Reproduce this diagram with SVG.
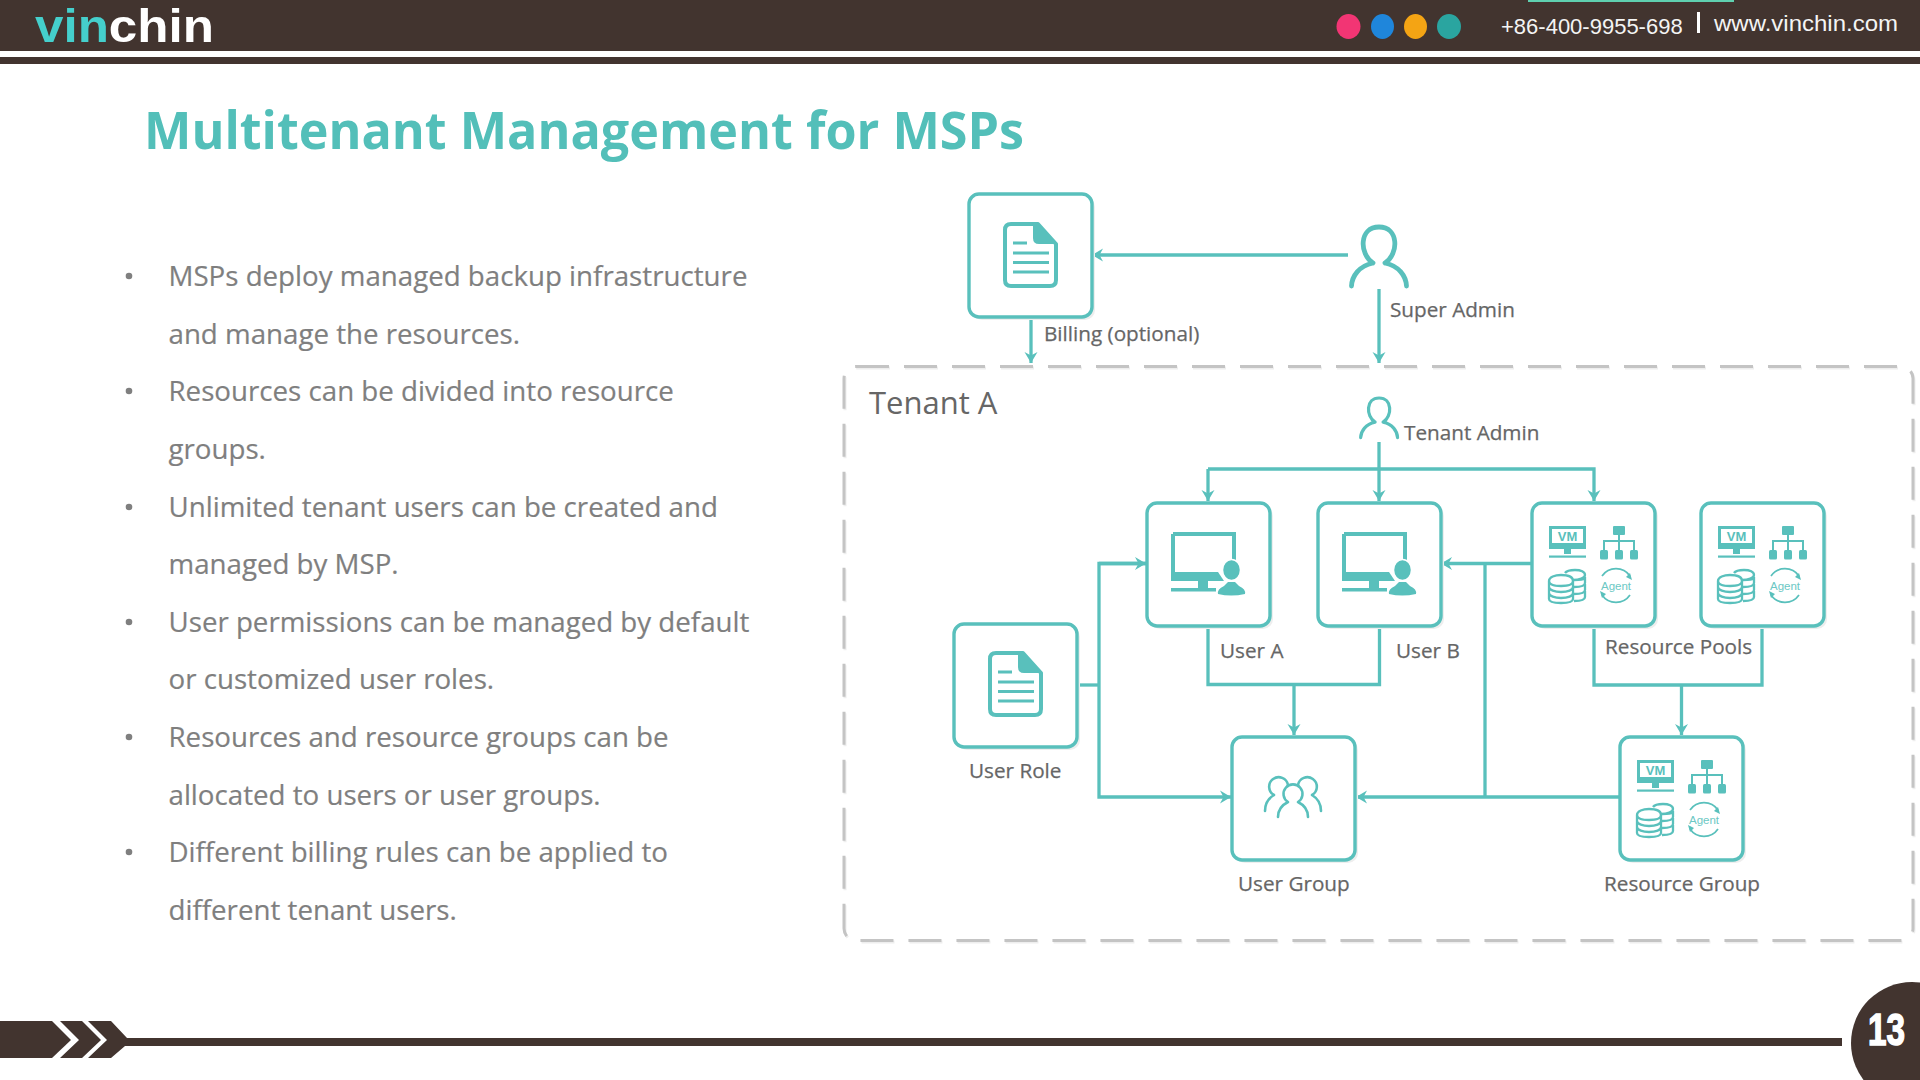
<svg xmlns="http://www.w3.org/2000/svg" xmlns:xlink="http://www.w3.org/1999/xlink" width="1920" height="1080" viewBox="0 0 1920 1080">
<style>
.br{fill:#42342f}
.box{fill:#fff;stroke:#59c0bc;stroke-width:3.4}
.sh{fill:#eeeeee}
.con{fill:none;stroke:#59c0bc;stroke-width:3.3;marker-end:url(#ah)}
.con0{fill:none;stroke:#59c0bc;stroke-width:3.3}
.lb{font-family:"Open Sans","Noto Sans",sans-serif;font-size:20.7px;fill:#666;stroke:#666;stroke-width:.25}
.bl{font-family:"Open Sans","Noto Sans",sans-serif;font-size:27.7px;fill:#7f7f7f;stroke:#7f7f7f;stroke-width:.2}
.tl{fill:#59c0bc}
.ts{fill:none;stroke:#59c0bc}
.top{font-family:"Liberation Sans",Arial,sans-serif;font-size:22px;fill:#f4f4f4}
</style>
<defs>
<marker id="ah" markerUnits="userSpaceOnUse" markerWidth="16" markerHeight="16" refX="14" refY="8" orient="auto"><path d="M14,8 L3,1.500 L6.500,8 L3,14.500 Z" fill="#59c0bc"/></marker>
<symbol id="bx" overflow="visible"><rect class="sh" x="3" y="3" width="123" height="123" rx="10"/><rect class="box" x="0" y="0" width="123" height="123" rx="10"/></symbol>
<symbol id="doc" overflow="visible">
<path d="M33,0 H6 Q0,0 0,6 V56 Q0,62 6,62 H45 Q51,62 51,56 V20 Z" fill="#fff" stroke="#59c0bc" stroke-width="4" stroke-linejoin="round"/>
<path d="M28,0 H33 L51,20 H34 Q28,20 28,14 Z" class="tl"/>
<path d="M8,19 H22 M8,29 H44 M8,38.500 H44 M8,48 H44" class="ts" stroke-width="3"/>
</symbol>
<symbol id="pc" overflow="visible">
<path d="M2,2 H63 V29 M2,2 V42" fill="none" stroke="#59c0bc" stroke-width="4"/>
<path d="M0,40 H47 L53,49 H0 Z" class="tl"/>
<rect x="27" y="48" width="10" height="8" class="tl"/>
<rect x="0" y="56" width="45" height="3.500" class="tl"/>
<ellipse cx="60.500" cy="38" rx="9" ry="10.500" class="tl" stroke="#fff" stroke-width="1.500"/>
<path d="M47,62 Q46,57 53,54 L57,50 H64 L68,54 Q75,57 74,62 Q60,65 47,62 Z" class="tl"/>
</symbol>
<symbol id="db" overflow="visible">
<g fill="none" stroke="#59c0bc" stroke-width="2.300">
<path d="M16,3 Q18,0 26,0 C32,0 36,2 36,5 C36,8 30,10 24,10 M25,10 C30,10 36,10 36,7 V13 C36,16 30,17 25,17 M36,14 V20 C36,23 30,24 25,24 M36,21 V27 C36,30 30,31 25,31"/>
<path d="M0,11 C0,7 6,5 12,5 C19,5 24,7 24,11 C24,15 19,16 12,16 C6,16 0,15 0,11 Z M0,11 V17 C0,20 6,22 12,22 C19,22 24,20 24,17 V11 M0,17 V23 C0,26 6,28 12,28 C19,28 24,26 24,23 V17 M0,23 V29 C0,32 6,33 12,33 C19,33 24,32 24,29 V23"/>
</g>
</symbol>
<symbol id="rs" overflow="visible">
<path d="M1.500,1.500 H35.500 V19 H1.500 Z" fill="none" stroke="#59c0bc" stroke-width="3"/>
<rect x="0" y="17" width="37" height="6" class="tl"/>
<rect x="15" y="22" width="7" height="6" class="tl"/>
<rect x="0" y="29.500" width="37" height="2.200" class="tl"/>
<text x="18.500" y="15" text-anchor="middle" font-family="'Liberation Sans',Arial,sans-serif" font-weight="bold" font-size="13px" fill="#59c0bc">VM</text>
<rect x="64" y="0" width="12" height="9" rx="1" class="tl"/>
<path d="M70,9 V26 M55,26 V15 H85 V26" class="ts" stroke-width="2"/>
<rect x="51" y="24" width="8" height="9.500" rx="1.500" class="tl"/>
<rect x="66" y="24" width="8" height="9.500" rx="1.500" class="tl"/>
<rect x="81" y="24" width="8" height="9.500" rx="1.500" class="tl"/>
<use xlink:href="#db" href="#db" x="0" y="44"/>
<text x="67" y="64" text-anchor="middle" font-family="'Liberation Sans',Arial,sans-serif" font-size="11.500px" fill="#6cc8c4">Agent</text>
<path d="M53,50 A17,17 0 0 1 81,50 M53,69 A17,17 0 0 0 81,69" class="ts" stroke-width="1.700"/>
<path d="M83,54 L77,51 L81,47 Z M51,65 L57,68 L53,72 Z" class="tl"/>
</symbol>
<symbol id="pr" overflow="visible">
<path d="M24,39 C10,30 10,3 30,3 C50,3 50,30 36,39 M24,39 C10,42 3,52 2.500,62 M36,39 C50,42 57,52 57.500,62" fill="none" stroke="#59c0bc" stroke-width="4.800" stroke-linecap="round"/>
</symbol>
</defs>

<g id="header">
<rect class="br" x="0" y="0" width="1920" height="51"/>
<rect class="br" x="0" y="57" width="1920" height="7"/>
<rect x="1528" y="0" width="206" height="2" fill="#5fd0b0"/>
<text x="35" y="42" font-family="'Liberation Sans',Arial,sans-serif" font-weight="700" font-size="46px" textLength="179" lengthAdjust="spacingAndGlyphs"><tspan fill="#45cfcc">vin</tspan><tspan fill="#ffffff">chin</tspan></text>
<ellipse cx="1348.500" cy="26.500" rx="12" ry="12.500" fill="#f23574"/>
<ellipse cx="1382.500" cy="26.500" rx="11.500" ry="12.500" fill="#1f86db"/>
<ellipse cx="1415.500" cy="26.500" rx="11.500" ry="12.500" fill="#f4a414"/>
<ellipse cx="1449" cy="26.500" rx="12" ry="12.500" fill="#2aa5a0"/>
<text class="top" x="1501" y="34">+86-400-9955-698</text>
<rect x="1697" y="12" width="3" height="21" fill="#fff"/>
<text class="top" x="1714" y="31" textLength="184" lengthAdjust="spacingAndGlyphs">www.vinchin.com</text>
</g>

<text x="144" y="149" font-family="'Open Sans','Noto Sans',sans-serif" font-weight="700" font-size="52px" fill="#53bfb9" textLength="880" lengthAdjust="spacingAndGlyphs">Multitenant Management for MSPs</text>

<g id="bullets">
<g fill="#7f7f7f"><circle cx="129" cy="276" r="3.300"/><circle cx="129" cy="391" r="3.300"/><circle cx="129" cy="507" r="3.300"/><circle cx="129" cy="622" r="3.300"/><circle cx="129" cy="737" r="3.300"/><circle cx="129" cy="852" r="3.300"/></g>
<text class="bl" x="168.500" y="286">MSPs deploy managed backup infrastructure</text>
<text class="bl" x="168.500" y="344">and manage the resources.</text>
<text class="bl" x="168.500" y="401">Resources can be divided into resource</text>
<text class="bl" x="168.500" y="459">groups.</text>
<text class="bl" x="168.500" y="517">Unlimited tenant users can be created and</text>
<text class="bl" x="168.500" y="574">managed by MSP.</text>
<text class="bl" x="168.500" y="632">User permissions can be managed by default</text>
<text class="bl" x="168.500" y="689">or customized user roles.</text>
<text class="bl" x="168.500" y="747">Resources and resource groups can be</text>
<text class="bl" x="168.500" y="805">allocated to users or user groups.</text>
<text class="bl" x="168.500" y="862">Different billing rules can be applied to</text>
<text class="bl" x="168.500" y="920">different tenant users.</text>
</g>

<g id="tenant-a">
<rect x="845" y="368" width="1069" height="574" rx="12" fill="none" stroke="#eeeeee" stroke-width="3" stroke-dasharray="33 15"/>
<rect x="844" y="366.500" width="1069" height="574" rx="12" fill="none" stroke="#c4c4c4" stroke-width="3" stroke-dasharray="33 15"/>
<text x="869" y="414" font-family="'Open Sans','Noto Sans',sans-serif" font-size="31px" fill="#666">Tenant A</text>
</g>

<g id="connectors">
<path class="con" d="M1348,255 H1092"/>
<path class="con" d="M1379,289 V363"/>
<path class="con" d="M1031,317 V363"/>
<path class="con0" d="M1379,442 V469"/>
<path class="con" d="M1208,469 H1594 V501"/>
<path class="con" d="M1208,469 V501"/>
<path class="con" d="M1379,469 V501"/>
<path class="con0" d="M1208,626 V684.500 H1379.500 V626"/>
<path class="con" d="M1294,684.500 V735"/>
<path class="con0" d="M1594,626 V685 H1762 V626"/>
<path class="con" d="M1681.500,685 V735"/>
<path class="con0" d="M1077,685 H1099"/>
<path class="con" d="M1146,563.500 H1099 V797 H1231"/>
<path class="con" d="M1099,563.500 H1146"/>
<path class="con" d="M1532,563.500 H1441"/>
<path class="con0" d="M1485,563.500 V797"/>
<path class="con" d="M1620,797 H1356"/>
</g>

<g id="billing"><use xlink:href="#bx" href="#bx" x="969" y="194"/><use xlink:href="#doc" href="#doc" x="1005" y="224"/><text class="lb" x="1044" y="341">Billing (optional)</text></g>
<g id="super-admin"><use xlink:href="#pr" href="#pr" x="1349" y="224"/><text class="lb" x="1390" y="317">Super Admin</text></g>
<g id="tenant-admin"><use xlink:href="#pr" href="#pr" transform="translate(1359,396) scale(.67)"/><text class="lb" x="1404" y="440">Tenant Admin</text></g>
<g id="user-a"><use xlink:href="#bx" href="#bx" x="1147" y="503"/><use xlink:href="#pc" href="#pc" x="1171" y="532"/><text class="lb" x="1220" y="658">User A</text></g>
<g id="user-b"><use xlink:href="#bx" href="#bx" x="1318" y="503"/><use xlink:href="#pc" href="#pc" x="1342" y="532"/><text class="lb" x="1396" y="658">User B</text></g>
<g id="pool-1"><use xlink:href="#bx" href="#bx" x="1532" y="503"/><use xlink:href="#rs" href="#rs" x="1549" y="526"/></g>
<g id="pool-2"><use xlink:href="#bx" href="#bx" x="1701" y="503"/><use xlink:href="#rs" href="#rs" x="1718" y="526"/><text class="lb" x="1605" y="654">Resource Pools</text></g>
<g id="user-role"><use xlink:href="#bx" href="#bx" x="954" y="624"/><use xlink:href="#doc" href="#doc" x="990" y="653"/><text class="lb" x="969" y="778">User Role</text></g>
<g id="user-group"><use xlink:href="#bx" href="#bx" x="1232" y="737"/>
<g fill="none" stroke="#59c0bc" stroke-width="2.600" stroke-linecap="round">
<path d="M1288,802 A9.500,9.500 0 1 1 1298,802 M1278,817 C1278,810 1282,805 1288,802 M1308,817 C1308,810 1304,805 1298,802"/>
<path d="M1274,795 A9.500,9.500 0 1 1 1288,785 M1265,811 C1265,804 1269,798 1274,795"/>
<path d="M1312,795 A9.500,9.500 0 1 0 1298,785 M1321,811 C1321,804 1317,798 1312,795"/>
</g>
<text class="lb" x="1238" y="891">User Group</text></g>
<g id="resource-group"><use xlink:href="#bx" href="#bx" x="1620" y="737"/><use xlink:href="#rs" href="#rs" x="1637" y="760"/><text class="lb" x="1604" y="891">Resource Group</text></g>

<g id="footer">
<path class="br" d="M0,1021 H52 L71,1040 L52,1058 H0 Z"/>
<path class="br" d="M60,1021 H82 L101,1040 L82,1058 H60 L79,1040 Z"/>
<path class="br" d="M88,1021 H111 L127,1038 H1842 V1046 H125 L111,1058 H88 L107,1040 Z"/>
<circle class="br" cx="1912" cy="1043" r="61"/>
<text x="1868" y="1045" font-family="'Liberation Sans',Arial,sans-serif" font-weight="bold" font-size="44px" fill="#fff" stroke="#fff" stroke-width="1.500" textLength="37" lengthAdjust="spacingAndGlyphs">13</text>
</g>
</svg>
